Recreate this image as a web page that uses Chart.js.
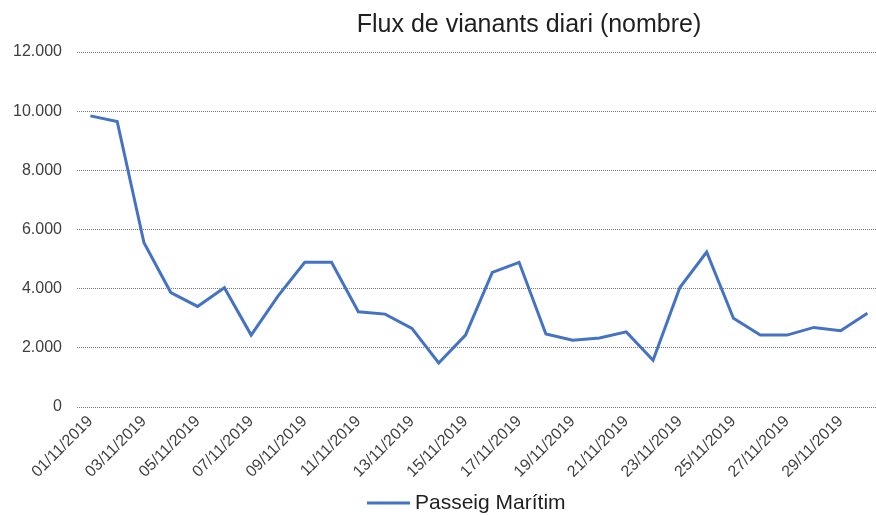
<!DOCTYPE html>
<html lang="ca">
<head>
<meta charset="utf-8">
<title>Flux de vianants diari (nombre)</title>
<script src="https://cdn.jsdelivr.net/npm/chart.js@4/dist/chart.umd.min.js"></script>
<style>
    html, body { margin: 0; padding: 0; background: #fff; overflow: hidden; }
    #wrap { width: 876px; height: 515px; overflow: hidden; }
    canvas { display: block; }
</style>
</head>
<body>
<div id="wrap">
    <canvas id="chartFlux" width="886" height="515"></canvas>
</div>
<script>
(function () {
    "use strict";

    // Data
    const TITLE = "Flux de vianants diari (nombre)";
    const SERIES_NAME = "Passeig Marítim";

    const days = [
        "01/11/2019", "02/11/2019", "03/11/2019", "04/11/2019", "05/11/2019",
        "06/11/2019", "07/11/2019", "08/11/2019", "09/11/2019", "10/11/2019",
        "11/11/2019", "12/11/2019", "13/11/2019", "14/11/2019", "15/11/2019",
        "16/11/2019", "17/11/2019", "18/11/2019", "19/11/2019", "20/11/2019",
        "21/11/2019", "22/11/2019", "23/11/2019", "24/11/2019", "25/11/2019",
        "26/11/2019", "27/11/2019", "28/11/2019", "29/11/2019", "30/11/2019",
    ];

    const pedestrians = [
        9840, 9650, 5550, 3870, 3400,
        4030, 2430, 3750, 4890, 4890,
        3220, 3140, 2660, 1490, 2430,
        4550, 4890, 2470, 2260, 2330,
        2540, 1580, 4040, 5240, 3000,
        2430, 2430, 2690, 2580, 3170,
    ];

    const yTickValues = [0, 2000, 4000, 6000, 8000, 10000, 12000];
    const yTickLabels = ["0", "2.000", "4.000", "6.000", "8.000", "10.000", "12.000"];

    // Styles
    const FONT = "'Liberation Sans', Arial, sans-serif";
    const LINE_COLOR = "#4472C4";
    const TEXT_COLOR = "#1f1f1f";
    const TICK_COLOR = "#404040";

    // ============================
    // Title + legend, placed like the original sheet
    // ============================
    const sheetText = {
        id: "sheetText",
        afterDraw(chart) {
            const ctx = chart.ctx;
            const ds = chart.data.datasets[0];
            ctx.save();

            ctx.fillStyle = TEXT_COLOR;
            ctx.font = "25px " + FONT;
            ctx.textAlign = "center";
            ctx.textBaseline = "alphabetic";
            ctx.fillText(TITLE, 529, 32);

            ctx.strokeStyle = ds.borderColor;
            ctx.lineWidth = 3;
            ctx.beginPath();
            ctx.moveTo(367, 503);
            ctx.lineTo(410, 503);
            ctx.stroke();

            ctx.font = "21px " + FONT;
            ctx.textAlign = "left";
            ctx.textBaseline = "middle";
            ctx.fillText(ds.label, 415, 503);

            ctx.restore();
        },
    };

    // ============================
    // Chart
    // ============================
    new Chart(document.getElementById("chartFlux"), {
        type: "line",
        data: {
            labels: days,
            datasets: [
                {
                    label: SERIES_NAME,
                    data: pedestrians,
                    borderColor: LINE_COLOR,
                    backgroundColor: LINE_COLOR,
                    borderWidth: 3,
                    pointRadius: 0,
                    tension: 0,
                    fill: false,
                },
            ],
        },
        options: {
            responsive: false,
            animation: false,
            devicePixelRatio: 1,
            layout: { padding: { top: 52, right: 0, bottom: 0, left: 0 } },
            plugins: {
                legend: { display: false },
                title: { display: false },
                tooltip: { enabled: false },
            },
            scales: {
                x: {
                    type: "category",
                    offset: true,
                    grid: { display: false, drawTicks: false },
                    border: { display: false },
                    ticks: {
                        autoSkip: false,
                        minRotation: 45,
                        maxRotation: 45,
                        padding: 5,
                        color: TICK_COLOR,
                        font: { family: FONT, size: 16 },
                        callback: (val, i) => (i % 2 === 0 ? days[i] : ""),
                    },
                    afterFit: (scale) => { scale.height = 108; },
                },
                y: {
                    min: 0,
                    max: 12000,
                    afterBuildTicks: (scale) => {
                        scale.ticks = yTickValues.map((v) => ({ value: v }));
                    },
                    grid: { color: "#7a7a7a", lineWidth: 1, drawTicks: false },
                    border: { display: false, dash: [1, 1] },
                    ticks: {
                        padding: 15,
                        color: TICK_COLOR,
                        font: { family: FONT, size: 16 },
                        callback: (val) => yTickLabels[yTickValues.indexOf(val)],
                    },
                    afterFit: (scale) => { scale.width = 77; },
                },
            },
        },
        plugins: [sheetText],
    });
})();
</script>
</body>
</html>
